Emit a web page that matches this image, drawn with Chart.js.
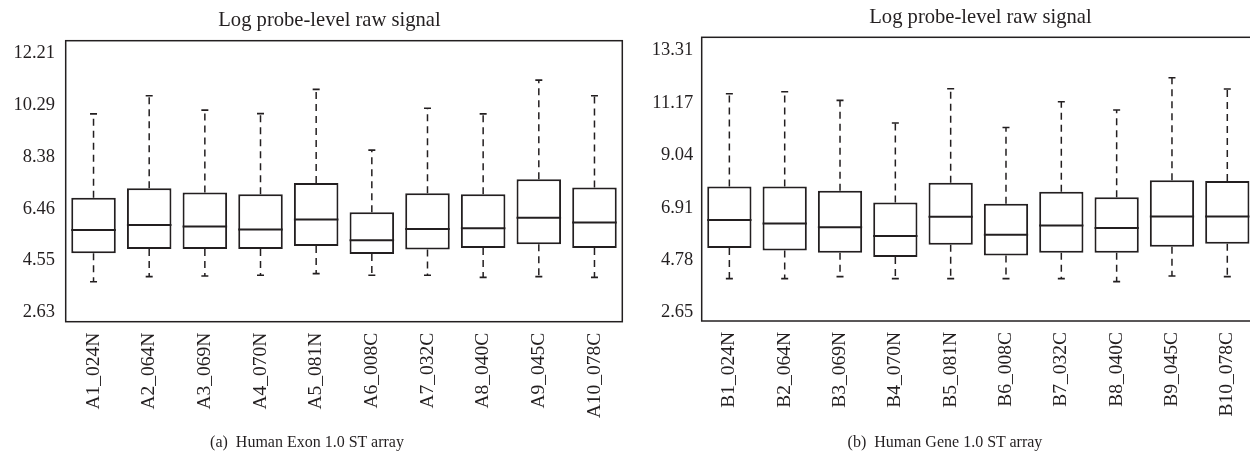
<!DOCTYPE html>
<html lang="en">

<head>
    <meta charset="UTF-8">
    <title>Log probe-level raw signal</title>
    <script src="https://cdn.jsdelivr.net/npm/chart.js@4.4.1/dist/chart.umd.min.js"></script>
    <style>
        html, body { margin: 0; padding: 0; background: #fff; overflow: hidden; }
        #page { position: relative; width: 1250px; height: 456px; overflow: hidden; }
        .panel { position: absolute; top: 0; height: 456px; }
        .txt {
            position: absolute; text-align: center; white-space: pre;
            font-family: "Liberation Serif", "DejaVu Serif", serif; color: #231f20;
        }
        .title { font-size: 20.6px; line-height: 24px; }
        .caption { font-size: 16px; line-height: 20px; top: 431.6px; }
    </style>
</head>

<body>
    <div id="page">
        <div class="panel" style="left:0; width:640px;"><canvas id="chartA"></canvas></div>
        <div class="panel" style="left:640px; width:622px;"><canvas id="chartB"></canvas></div>
        <div class="txt title" style="left:0; width:659px; top:7px;">Log probe-level raw signal</div>
        <div class="txt title" style="left:640px; width:681px; top:3.7px;">Log probe-level raw signal</div>
        <div class="txt caption" style="left:0; width:614px;">(a)  Human Exon 1.0 ST array</div>
        <div class="txt caption" style="left:640px; width:610px;">(b)  Human Gene 1.0 ST array</div>
    </div>
    <script>
        // panel (a) - exon array
        const labelsA = ["A1_024N", "A2_064N", "A3_069N", "A4_070N", "A5_081N", "A6_008C", "A7_032C", "A8_040C", "A9_045C", "A10_078C"];
        const minA = [3.76, 3.95, 3.97, 4.00, 4.06, 4.00, 4.00, 3.92, 3.95, 3.92];
        const q1A = [4.81, 4.97, 4.97, 4.97, 5.08, 4.79, 4.95, 5.01, 5.15, 5.01];
        const medA = [5.67, 5.86, 5.80, 5.69, 6.06, 5.29, 5.71, 5.74, 6.13, 5.95];
        const q3A = [6.87, 7.22, 7.06, 7.00, 7.41, 6.33, 7.03, 7.00, 7.55, 7.25];
        const maxA = [9.97, 10.64, 10.11, 9.98, 10.88, 8.63, 10.18, 9.97, 11.22, 10.64];
        const ticksA = [2.63, 4.55, 6.46, 8.38, 10.29, 12.21];

        // panel (b) - gene array
        const labelsB = ["B1_024N", "B2_064N", "B3_069N", "B4_070N", "B5_081N", "B6_008C", "B7_032C", "B8_040C", "B9_045C", "B10_078C"];
        const minB = [4.03, 4.03, 4.11, 4.03, 4.03, 4.03, 4.03, 3.91, 4.14, 4.11];
        const q1B = [5.27, 5.17, 5.08, 4.91, 5.41, 4.97, 5.08, 5.08, 5.33, 5.45];
        const medB = [6.41, 6.27, 6.12, 5.76, 6.54, 5.81, 6.19, 6.09, 6.55, 6.55];
        const q3B = [7.77, 7.77, 7.60, 7.12, 7.92, 7.07, 7.56, 7.34, 8.03, 7.99];
        const maxB = [11.54, 11.62, 11.27, 10.35, 11.74, 10.17, 11.21, 10.88, 12.19, 11.73];
        const ticksB = [2.65, 4.78, 6.91, 9.04, 11.17, 13.31];

        const ink = '#231f20';
        const serif = '"Liberation Serif", "DejaVu Serif", serif';

        // whiskers, caps, medians and the frame round the plot
        const boxPlugin = {
            id: 'boxExtras',
            afterDatasetsDraw(chart) {
                const ctx = chart.ctx;
                const y = chart.scales.y;
                const st = chart.options.plugins.boxExtras;
                const bars = chart.getDatasetMeta(0).data;
                ctx.save();
                ctx.strokeStyle = ink;
                bars.forEach((bar, i) => {
                    const half = bar.width / 2;
                    // dashed whiskers
                    ctx.lineWidth = 1.5;
                    ctx.setLineDash([7, 5]);
                    ctx.beginPath();
                    ctx.moveTo(bar.x, y.getPixelForValue(st.q3[i]));
                    ctx.lineTo(bar.x, y.getPixelForValue(st.max[i]));
                    ctx.moveTo(bar.x, y.getPixelForValue(st.q1[i]));
                    ctx.lineTo(bar.x, y.getPixelForValue(st.min[i]));
                    ctx.stroke();
                    ctx.setLineDash([]);
                    // caps
                    ctx.lineWidth = 1.6;
                    ctx.beginPath();
                    [st.max[i], st.min[i]].forEach(v => {
                        const py = y.getPixelForValue(v);
                        ctx.moveTo(bar.x - 3.5, py);
                        ctx.lineTo(bar.x + 3.5, py);
                    });
                    ctx.stroke();
                    // median
                    ctx.lineWidth = 2;
                    const pm = y.getPixelForValue(st.med[i]);
                    ctx.beginPath();
                    ctx.moveTo(bar.x - half, pm);
                    ctx.lineTo(bar.x + half, pm);
                    ctx.stroke();
                });
                const a = chart.chartArea;
                ctx.lineWidth = 1.5;
                ctx.strokeRect(a.left, a.top, a.right - a.left, a.bottom - a.top);
                ctx.restore();
            }
        };

        function makeBox(id, labels, mins, q1s, meds, q3s, maxs, tickVals, cfg) {
            return new Chart(document.getElementById(id), {
                type: 'bar',
                data: {
                    labels: labels,
                    datasets: [{
                        data: q1s.map((q, i) => [q, q3s[i]]),
                        backgroundColor: '#ffffff',
                        borderColor: ink,
                        borderWidth: 2,
                        borderSkipped: false,
                        barPercentage: 0.8,
                        categoryPercentage: 1
                    }]
                },
                options: {
                    responsive: true,
                    maintainAspectRatio: false,
                    animation: false,
                    layout: { padding: { left: 0, right: cfg.padRight, top: cfg.padTop, bottom: 0 } },
                    plugins: {
                        legend: { display: false },
                        tooltip: { enabled: false },
                        boxExtras: { min: mins, q1: q1s, med: meds, q3: q3s, max: maxs }
                    },
                    scales: {
                        x: {
                            grid: { display: false, drawTicks: false },
                            border: { display: false },
                            ticks: {
                                color: ink, font: { family: serif, size: 19.5 },
                                minRotation: 90, maxRotation: 90, padding: 11, autoSkip: false
                            },
                            afterFit: s => { s.height = cfg.xHeight; }
                        },
                        y: {
                            min: cfg.yMin,
                            max: cfg.yMax,
                            grid: { display: false, drawTicks: false },
                            border: { display: false },
                            afterBuildTicks: s => { s.ticks = tickVals.map(v => ({ value: v })); },
                            ticks: {
                                color: ink, font: { family: serif, size: 18.5 },
                                padding: cfg.yPad,
                                callback: v => Number(v).toFixed(2)
                            },
                            afterFit: s => { s.width = cfg.yWidth; }
                        }
                    }
                },
                plugins: [boxPlugin]
            });
        }

        makeBox('chartA', labelsA, minA, q1A, medA, q3A, maxA, ticksA, {
            padRight: 17.7, padTop: 40.7, yWidth: 65.7, yPad: 10.7, xHeight: 134.3,
            yMin: 2.28, yMax: 12.68
        });
        makeBox('chartB', labelsB, minB, q1B, medB, q3B, maxB, ticksB, {
            padRight: 6, padTop: 37.3, yWidth: 61.7, yPad: 8.4, xHeight: 135,
            yMin: 2.31, yMax: 13.83
        });
    </script>
</body>

</html>
